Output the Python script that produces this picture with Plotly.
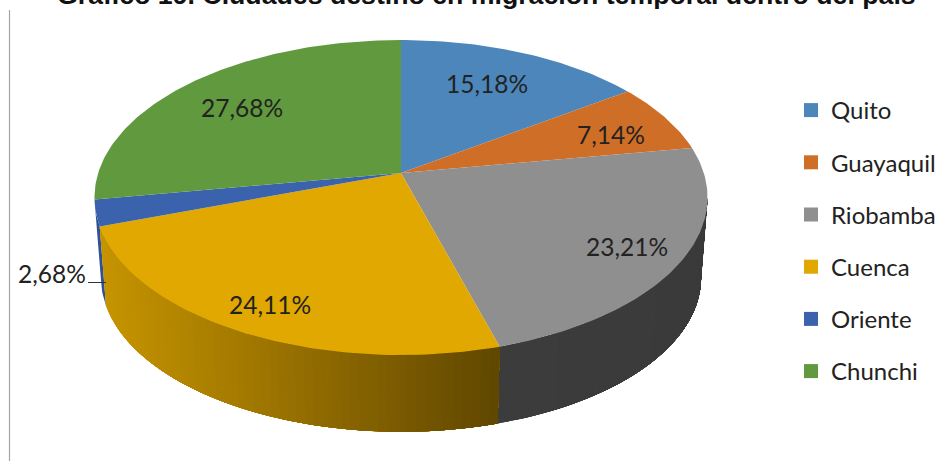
import math
import plotly.graph_objects as go

# ---- data ----
categories = ["Quito", "Guayaquil", "Riobamba", "Cuenca", "Oriente", "Chunchi"]
values = [15.18, 7.14, 23.21, 24.11, 2.68, 27.68]
top_colors = ["#4d86bb", "#cf6e27", "#8f8f8f", "#e0a800", "#3a62ad", "#60993e"]
wall_left = ["#355d82", "#8f4c1b", "#3c3c3c", "#c69400", "#2f5196", "#436b2b"]
wall_right = ["#355d82", "#8f4c1b", "#3a3a3a", "#5f4600", "#2f5196", "#436b2b"]
title_text = "Gráfico 19. Ciudades destino en migración temporal dentro del país"

# ---- projection of the tilted disc (layout, not data) ----
CX, CY = 401.0, 173.0
R, K, P = 302.8, 153.7, 0.1556
CY_LOW, LOW_SCALE = 253.5, 0.979
WALL_FROM, WALL_TO = 99.0, 261.0  # the part of the rim that faces the viewer


def project(deg, low=False):
    a = math.radians(deg)
    u, v = math.sin(a), -math.cos(a)
    s = 1.0 / (1.0 - P * v)
    if low:
        return CX + R * LOW_SCALE * u * s, CY_LOW + K * LOW_SCALE * v * s
    return CX + R * u * s, CY + K * v * s


def mix(c1, c2, t):
    a = [int(c1[i:i + 2], 16) for i in (1, 3, 5)]
    b = [int(c2[i:i + 2], 16) for i in (1, 3, 5)]
    return "rgb(%d,%d,%d)" % tuple(round(x + (y - x) * t) for x, y in zip(a, b))


total = sum(values)
starts = []
acc = 0.0
for v in values:
    starts.append(acc / total * 360.0)
    acc += v
ends = starts[1:] + [360.0]

fig = go.Figure()


def poly(pts, color):
    fig.add_trace(go.Scatter(
        x=[p[0] for p in pts] + [pts[0][0]], y=[p[1] for p in pts] + [pts[0][1]],
        mode="lines", fill="toself", fillcolor=color,
        line=dict(color=color, width=0), hoverinfo="skip", showlegend=False))


def wall_outline(a0, a1):
    n = max(2, int(a1 - a0))
    angles = [a0 + (a1 - a0) * j / n for j in range(n + 1)]
    return [project(a) for a in angles] + [project(a, True) for a in reversed(angles)]


# side walls: a base piece per slice, then overlapping strips for the shading
for i in (2, 4, 3):
    a0, a1 = max(starts[i], WALL_FROM), min(ends[i], WALL_TO)
    if a0 >= a1:
        continue
    poly(wall_outline(a0, a1), mix(wall_left[i], wall_right[i], 0.0))
    if wall_left[i] != wall_right[i]:
        n = max(2, int((a1 - a0) / 1.5))
        x_right = project(a0, True)[0]
        x_left = project(a1, True)[0]
        for j in range(n):
            # each piece reaches back to the right end, so the shade steps left to right
            s1 = a1 - (a1 - a0) * j / n
            t = (project(s1, True)[0] - x_left) / (x_right - x_left)
            poly(wall_outline(a0, s1), mix(wall_left[i], wall_right[i], t))

# top face
for i in range(len(values)):
    n = max(4, int(ends[i] - starts[i]))
    arc = [project(starts[i] + (ends[i] - starts[i]) * j / n) for j in range(n + 1)]
    poly([(CX, CY)] + arc, top_colors[i])

# legend keys
for name, col in zip(categories, top_colors):
    fig.add_trace(go.Scatter(
        x=[None], y=[None], mode="markers", name=name, legendgroup=name,
        marker=dict(symbol="square", size=14, color=col)))

# percentage labels
label_xy = [(487, 83), (611, 134), (627, 246), (270, 304), (52, 273), (242, 107)]
annots = [dict(x=x, y=y, xref="x", yref="y", showarrow=False,
               text=f"{v:.2f}".replace(".", ",") + "%",
               font=dict(family="Lato", size=24.5, color="#222222"))
          for v, (x, y) in zip(values, label_xy)]
annots.append(dict(x=486, y=12, xref="x", yref="y", yanchor="bottom", showarrow=False,
                   text="<b>" + title_text + "</b>",
                   font=dict(family="Liberation Sans", size=26.7, color="#111111")))

fig.update_layout(
    width=951, height=472, autosize=False,
    margin=dict(l=0, r=0, t=0, b=0),
    paper_bgcolor="white", plot_bgcolor="white",
    xaxis=dict(range=[0, 951], visible=False, fixedrange=True),
    yaxis=dict(range=[472, 0], visible=False, fixedrange=True),
    annotations=annots,
    shapes=[
        dict(type="line", x0=9.5, x1=9.5, y0=10, y1=461, xref="x", yref="y",
             line=dict(color="#a6a6a6", width=1.2)),
        dict(type="line", x0=88, x1=106, y0=282.5, y1=282.5, xref="x", yref="y",
             line=dict(color="#333333", width=1)),
    ],
    legend=dict(x=791 / 951, y=1 - 88 / 472, xanchor="left", yanchor="top",
                tracegroupgap=18, font=dict(family="Lato", size=24, color="#222222"),
                bgcolor="rgba(0,0,0,0)"),
    showlegend=True,
)

fig.write_html("out.html", config=dict(displayModeBar=False),
               post_script="document.body.style.margin='0';")
